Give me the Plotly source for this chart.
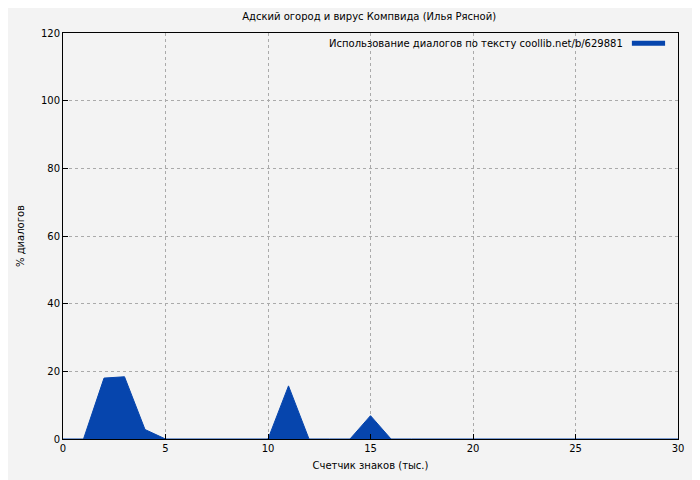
import plotly.graph_objects as go

x = list(range(0, 31))
y = [0, 0, 18.0, 18.4, 2.8, 0, 0, 0, 0, 0, 0, 15.7, 0, 0, 0, 6.9, 0, 0, 0, 0, 0, 0, 0, 0, 0, 0, 0, 0, 0, 0, 0]
title = "Адский огород и вирус Компвида (Илья Рясной)"
legend_text = "Использование диалогов по тексту coollib.net/b/629881"

fig = go.Figure()
fig.add_trace(go.Scatter(x=x, y=y, mode="lines", fill="tozeroy", line=dict(color="#0645ad", width=1),
                         fillcolor="#0645ad", showlegend=False))
ax = dict(showline=True, linecolor="black", linewidth=1, mirror=True, ticks="inside", ticklen=5,
          tickcolor="black", showgrid=True, gridcolor="#aaa", griddash="dot", gridwidth=1, zeroline=False,
          tickfont=dict(size=10, color="black"))
fig.update_xaxes(range=[0, 30], dtick=5, title=dict(text="Счетчик знаков (тыс.)", font=dict(size=10), standoff=8), **ax)
fig.update_yaxes(range=[0, 120], dtick=20, title=dict(text="% диалогов", font=dict(size=10), standoff=14), **ax)
fig.update_layout(width=700, height=480, paper_bgcolor="#f3f3f3", plot_bgcolor="#f3f3f3",
                  margin=dict(l=53, r=30, t=25, b=49),
                  font=dict(family="DejaVu Sans", size=10, color="black"),
                  title=dict(text=title, x=0.516, xanchor="center", y=0.983, yanchor="middle", font=dict(size=10)))
fig.add_annotation(xref="paper", yref="paper", x=0.914, y=0.975, xanchor="right", yanchor="middle",
                   text=legend_text, showarrow=False, font=dict(size=10))
fig.add_shape(type="line", xref="paper", yref="paper", x0=0.925, x1=0.979, y0=0.975, y1=0.975,
              line=dict(color="#0645ad", width=5))
fig.write_html("out.html")
